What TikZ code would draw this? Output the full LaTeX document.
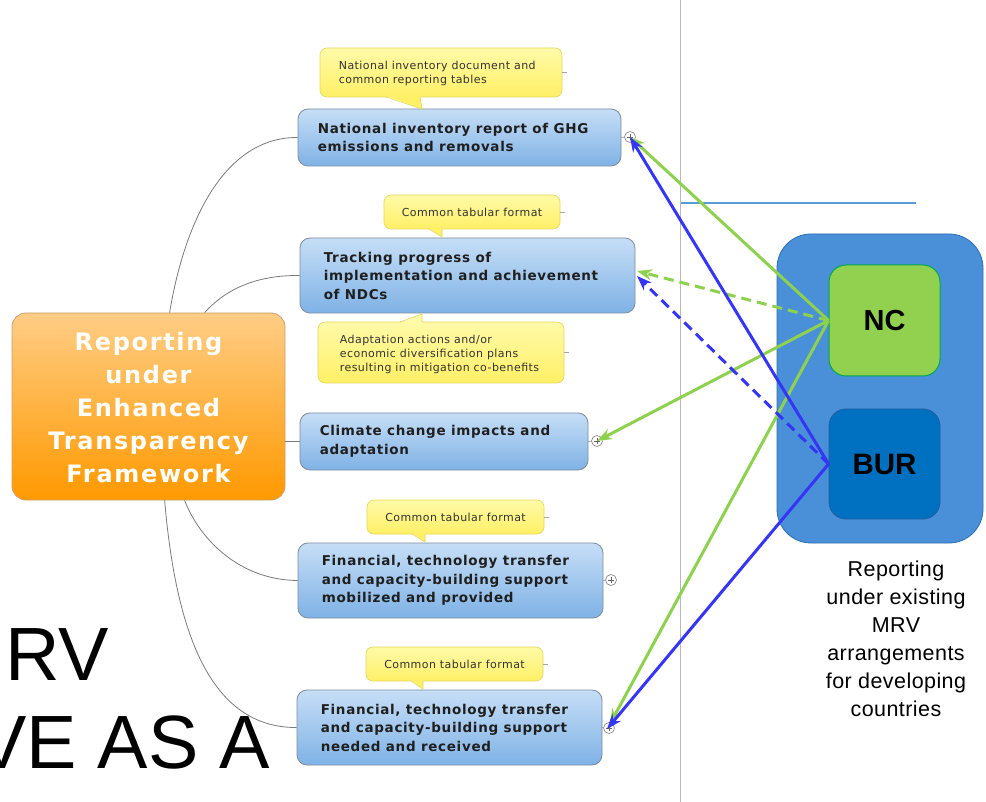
\documentclass[tikz,border=0pt]{standalone}
\usepackage{fontspec}
\setmainfont{DejaVu Sans}
\newfontfamily\arialfont{Liberation Sans}
\newfontfamily\spreadarial{Liberation Sans}[LetterSpace=2]
\newfontfamily\topicfont{DejaVu Sans}[LetterSpace=5]
\newfontfamily\centralfont{DejaVu Sans}[LetterSpace=7]
\newfontfamily\notefont{DejaVu Sans}[LetterSpace=4]
\usetikzlibrary{arrows.meta,calc}

\definecolor{boxtop}{HTML}{C6DEF6}
\definecolor{boxmid}{HTML}{92BEEB}
\definecolor{boxbot}{HTML}{7FB2E6}
\definecolor{boxedge}{HTML}{7D8C9C}
\definecolor{orgtop}{HTML}{FFCD85}
\definecolor{orgmid}{HTML}{FF9C0A}
\definecolor{orgbot}{HTML}{FF9900}
\definecolor{orgedge}{HTML}{C9A070}
\definecolor{notetop}{HTML}{FFFAA8}
\definecolor{notebot}{HTML}{FFF066}
\definecolor{noteedge}{HTML}{E3D65A}
\definecolor{branchgray}{HTML}{7A7A7A}
\definecolor{ncgreen}{HTML}{92D050}
\definecolor{ncedge}{HTML}{00A850}
\definecolor{burblue}{HTML}{0070C0}
\definecolor{buredge}{HTML}{1F5E9E}
\definecolor{panelblue}{HTML}{4A90D9}
\definecolor{paneledge}{HTML}{2F6DB0}
\definecolor{arrgreen}{HTML}{8ED14F}
\definecolor{arrblue}{HTML}{3535F5}
\definecolor{ruleblue}{HTML}{5B9BD5}

\begin{document}
\begin{tikzpicture}[x=1pt,y=-1pt,
  topic/.style={draw=boxedge, line width=0.8pt, rounded corners=10pt,
    top color=boxtop, middle color=boxmid, bottom color=boxbot},
  topictext/.style={inner sep=0pt, align=left, text=black!88,
    font=\topicfont\fontsize{13.5}{18.5}\selectfont\bfseries},
  note/.style={draw=noteedge, line width=0.6pt, rounded corners=7pt,
    top color=notetop, bottom color=notebot},
  notetext/.style={inner sep=0pt, align=left, text=black!80,
    font=\notefont\fontsize{11}{14}\selectfont},
  tick/.style={draw=gray!70, line width=0.5pt},
  branch/.style={draw=branchgray, line width=0.8pt},
  knob/.style={circle, draw=gray, fill=white, line width=0.6pt,
    minimum size=11pt, inner sep=0pt},
  greenarrow/.style={draw=arrgreen, line width=3pt,
    -{Stealth[length=15pt,width=11pt]}},
  bluearrow/.style={draw=arrblue, line width=3pt,
    -{Stealth[length=15pt,width=11pt]}},
  dashedline/.style={dash pattern=on 10pt off 6pt}]

\useasboundingbox (0,0) rectangle (986,802);

% large slide text in the background
\begin{scope}
  \clip (0,0) rectangle (986,802);
  \node[anchor=base west, inner sep=0pt, font=\arialfont\fontsize{75.5}{75.5}\selectfont] (bgone) at (5,680) {RV};
  \node[anchor=base west, inner sep=0pt, font=\arialfont\fontsize{75.5}{75.5}\selectfont] (bgtwo) at (-24,768) {VE AS A};
\end{scope}

% separators
\coordinate (septop) at (680,0);
\coordinate (sepbot) at (680,802);
\draw[gray!55, line width=0.8pt] (septop) -- (sepbot);
\coordinate (ruleL) at (681,203);
\coordinate (ruleR) at (916,203);
\draw[ruleblue, line width=2pt] (ruleL) -- (ruleR);

% central topic
\node[draw=orgedge, line width=0.8pt, rounded corners=14pt,
  top color=orgtop, middle color=orgmid, bottom color=orgbot,
  minimum width=273pt, minimum height=187pt] (ctr) at (148.5,406.5) {};
\node[inner sep=0pt, align=center, text=white,
  font=\centralfont\fontsize{24}{33}\selectfont\bfseries] (ctrtext) at (148.5,408)
  {Reporting\\under\\Enhanced\\Transparency\\Framework};

% sub-topics
\node[topic, minimum width=323pt, minimum height=57pt] (b1) at (459.5,137.5) {};
\node[topictext, anchor=west] (t1) at ($(b1.west)+(20,0)$)
  {National inventory report of GHG\\emissions and removals};

\node[topic, minimum width=335pt, minimum height=75pt] (b2) at (467.5,275.5) {};
\node[topictext, anchor=west] (t2) at ($(b2.west)+(24,0)$)
  {Tracking progress of\\implementation and achievement\\of NDCs};

\node[topic, minimum width=288pt, minimum height=57pt] (b3) at (444,441.5) {};
\node[topictext, anchor=west] (t3) at ($(b3.west)+(20,0)$)
  {Climate change impacts and\\adaptation};

\node[topic, minimum width=305pt, minimum height=75pt] (b4) at (450.5,580.5) {};
\node[topictext, anchor=west] (t4) at ($(b4.west)+(24,0)$)
  {Financial, technology transfer\\and capacity-building support\\mobilized and provided};

\node[topic, minimum width=305pt, minimum height=75pt] (b5) at (449.5,727.5) {};
\node[topictext, anchor=west] (t5) at ($(b5.west)+(24,0)$)
  {Financial, technology transfer\\and capacity-building support\\needed and received};

% branches from the central topic
\draw[branch] ($(ctr.north west)+(158,0)$) .. controls (185,220) and (225,137) .. (b1.west);
\draw[branch] ($(ctr.north west)+(193,0)$) .. controls (225,290) and (255,275) .. (b2.west);
\draw[branch] (b3.west -| ctr.east) -- (b3.west);
\draw[branch] ($(ctr.south west)+(173,0)$) .. controls (200,540) and (240,580) .. (b4.west);
\draw[branch] ($(ctr.south west)+(153,0)$) .. controls (175,620) and (205,728) .. (b5.west);

% callouts
\node[note, minimum width=242pt, minimum height=49pt] (n1) at (441,72.5) {};
\fill[notebot] (386,96) -- (422,109) -- (420,96) -- cycle;
\draw[noteedge, line width=0.6pt] (386,97) -- (422,109) -- (420,97);
\node[notetext, anchor=west] (m1) at ($(n1.west)+(19,0.5)$)
  {National inventory document and\\common reporting tables};
\draw[tick] (n1.east) -- ++(5,0);

\node[note, minimum width=176pt, minimum height=34pt] (n2) at (472,212) {};
\fill[notebot] (429,228) -- (442,237) -- (442,228) -- cycle;
\draw[noteedge, line width=0.6pt] (429,229) -- (442,237) -- (442,229);
\node[notetext] (m2) at (n2.center) {Common tabular format};
\draw[tick] (n2.east) -- ++(5,0);

\node[note, minimum width=246pt, minimum height=61pt] (n3) at (441,352.5) {};
\fill[notetop] (400,323) -- (422,314) -- (422,323) -- cycle;
\draw[noteedge, line width=0.6pt] (400,322) -- (422,314) -- (422,322);
\node[notetext, anchor=west] (m3) at ($(n3.west)+(22,1.5)$)
  {Adaptation actions and/or\\economic diversification plans\\resulting in mitigation co-benefits};
\draw[tick] (n3.east) -- ++(5,0);

\node[note, minimum width=177pt, minimum height=34pt] (n4) at (455.5,517) {};
\fill[notebot] (412,533) -- (425,542) -- (425,533) -- cycle;
\draw[noteedge, line width=0.6pt] (412,534) -- (425,542) -- (425,534);
\node[notetext] (m4) at (n4.center) {Common tabular format};
\draw[tick] (n4.east) -- ++(5,0);

\node[note, minimum width=177pt, minimum height=34pt] (n5) at (454.5,664) {};
\fill[notebot] (411,680) -- (423,689) -- (423,680) -- cycle;
\draw[noteedge, line width=0.6pt] (411,681) -- (423,689) -- (423,681);
\node[notetext] (m5) at (n5.center) {Common tabular format};
\draw[tick] (n5.east) -- ++(5,0);

% expand knobs
\node[knob] (c1) at (630,137) {};
\node[knob] (c3) at (597,441) {};
\node[knob] (c4) at (611,580) {};
\node[knob] (c5) at (609,728) {};
\foreach \k/\b in {c1/b1, c3/b3, c4/b4, c5/b5} {
  \draw[gray, line width=0.6pt] (\b.east) -- (\k.west);
  \draw[gray!80!black, line width=0.6pt] ($(\k.center)+(-3,0)$) -- ($(\k.center)+(3,0)$);
  \draw[gray!80!black, line width=0.6pt] ($(\k.center)+(0,-3)$) -- ($(\k.center)+(0,3)$);
}

% existing MRV arrangements
\node[draw=paneledge, line width=0.8pt, fill=panelblue, rounded corners=34pt,
  minimum width=206pt, minimum height=309pt] (panel) at (880,388.5) {};
\node[draw=ncedge, line width=1pt, fill=ncgreen, rounded corners=17pt,
  minimum width=111pt, minimum height=111pt,
  font=\arialfont\fontsize{29}{29}\selectfont\bfseries] (nc) at (884.5,320.5) {NC};
\node[draw=buredge, line width=0.8pt, fill=burblue, rounded corners=17pt,
  minimum width=111pt, minimum height=110pt,
  font=\arialfont\fontsize{29.5}{29.5}\selectfont\bfseries] (bur) at (884.5,464) {BUR};
\node[inner sep=0pt, align=center, font=\spreadarial\fontsize{21.5}{28}\selectfont]
  (mrv) at (896,639) {Reporting\\under existing\\MRV\\arrangements\\for developing\\countries};

% links from NC and BUR to the reporting elements
\coordinate (g2) at (637,271);
\coordinate (u2) at (637,276);
\coordinate (g5) at (610,724);
\coordinate (u5) at (607,729);
\draw[greenarrow] (nc.west) -- (c1.center);
\draw[greenarrow, dashedline] (nc.west) -- (g2);
\draw[greenarrow] (nc.west) -- (c3.center);
\draw[greenarrow] (nc.west) -- (g5);
\draw[bluearrow] (bur.west) -- (c1.center);
\draw[bluearrow, dashedline] (bur.west) -- (u2);
\draw[bluearrow] (bur.west) -- (u5);
\end{tikzpicture}
\end{document}
